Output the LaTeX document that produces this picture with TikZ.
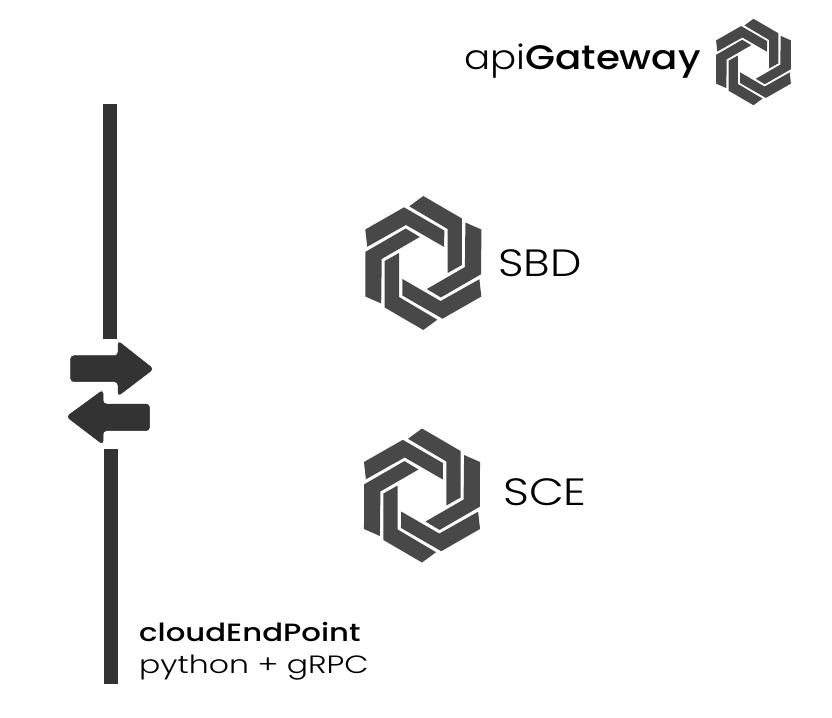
\documentclass[tikz,border=0pt]{standalone}
\usepackage{fontspec}
\setmainfont{Poppins}
\newfontfamily\lightf{Poppins Light}
\newfontfamily\medf{Poppins Medium}
\definecolor{logogray}{HTML}{484848}
\definecolor{bargray}{HTML}{333333}
\tikzset{
  logopiece/.style={fill=logogray,draw=none},
  barline/.style={draw=bargray,line width=14pt},
  arrowshape/.style={fill=bargray,draw=bargray,line width=0.5pt,rounded corners=3.5pt},
  txt/.style={inner sep=0pt,anchor=base west,text=black},
  hexlogo/.pic={
    \foreach \a in {0,60,...,300}{
      \fill[logopiece,rotate=\a] (-14,-56.7) -- (0,-67) -- (38.6,-44.5) -- (38.6,2) -- (24.3,10) -- (24.3,-34) -- cycle;
    }
  }
}
\begin{document}
\begin{tikzpicture}[x=1pt,y=-1pt]
\useasboundingbox (0,0) rectangle (832,717);
\fill[white] (0,0) rectangle (832,717);
\coordinate (bar1a) at (110,104);
\coordinate (bar1b) at (110,339);
\coordinate (bar2a) at (110.5,449);
\coordinate (bar2b) at (110.5,684);
\draw[barline] (bar1a) -- (bar1b);
\draw[barline] (bar2a) -- (bar2b);
\fill[arrowshape] (70.5,355.7) -- (118,355.7) -- (118,341) -- (153.5,369) -- (118,396) -- (118,381.7) -- (70.5,381.7) -- cycle;
\fill[arrowshape] (149.5,404) -- (103,404) -- (103,390) -- (66.5,416.7) -- (103,444.5) -- (103,430.7) -- (149.5,430.7) -- cycle;
\pic (sbdlogo) at (423.3,263) {hexlogo};
\pic (scelogo) at (422,495.5) {hexlogo};
\pic[scale=0.645] (gwlogo) at (753.5,62) {hexlogo};
\node[txt] (gw) at (464,70) {\fontsize{34}{34}\selectfont\scalebox{1.14}[1]{{\lightf api}{\medf Gateway}}};
\node[txt] (sbd) at (498,276) {\fontsize{38}{38}\lightf\scalebox{1.17}[1]{SBD}};
\node[txt] (sce) at (503,505) {\fontsize{38}{38}\lightf\scalebox{1.19}[1]{SCE}};
\node[txt] (cep) at (139,641) {\fontsize{25}{25}\medf\scalebox{1.23}[1]{cloudEndPoint}};
\node[txt] (py) at (139,673) {\fontsize{25}{25}\lightf\scalebox{1.26}[1]{python + gRPC}};
\end{tikzpicture}
\end{document}
